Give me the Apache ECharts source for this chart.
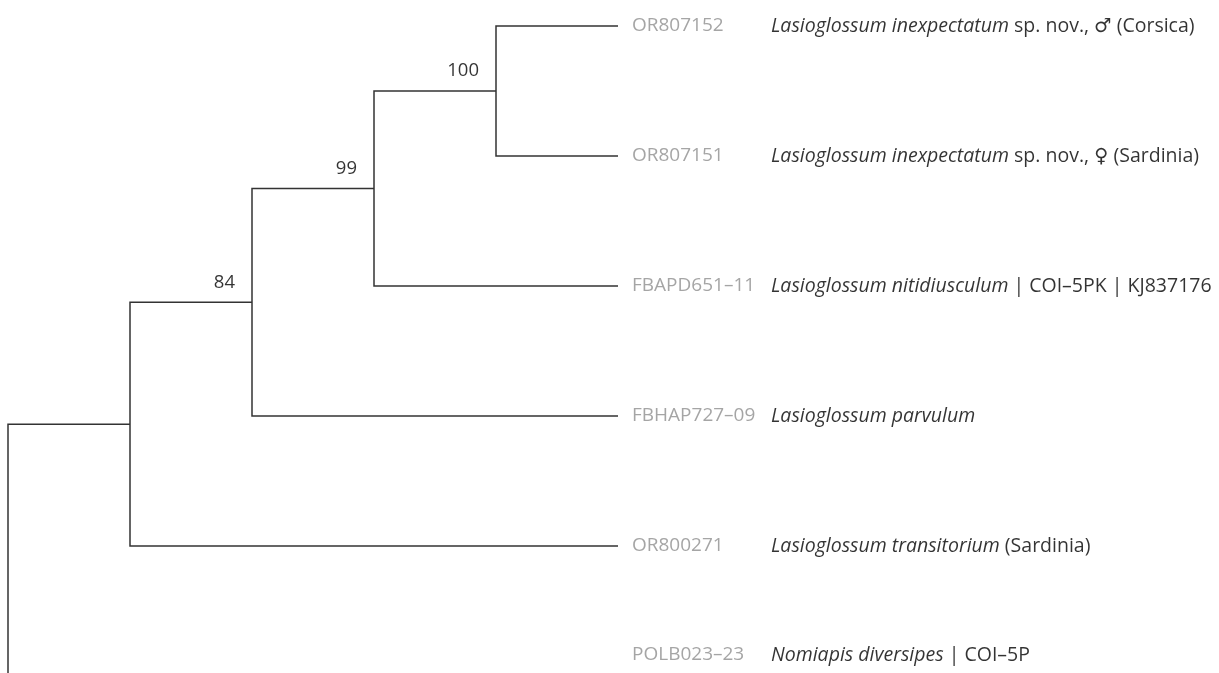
<!DOCTYPE html>
<html>
<head>
<meta charset="utf-8">
<script src="https://cdn.jsdelivr.net/npm/echarts@6/dist/echarts.min.js"></script>
<style>
html,body{margin:0;padding:0;background:#fff;}
#chart{width:1219px;height:673px;}
</style>
</head>
<body>
<div id="chart"></div>
<script>
// ---- data ----
const accessions = ['OR807152', 'OR807151', 'FBAPD651\u201311', 'FBHAP727\u201309', 'OR800271', 'POLB023\u201323'];
const speciesItalic = ['Lasioglossum inexpectatum', 'Lasioglossum inexpectatum', 'Lasioglossum nitidiusculum', 'Lasioglossum parvulum', 'Lasioglossum transitorium', 'Nomiapis diversipes'];
const speciesSuffix = [' sp. nov., \u2642 (Corsica)', ' sp. nov., \u2640 (Sardinia)', ' | COI\u20135PK | KJ837176', '', ' (Sardinia)', ' | COI\u20135P'];
// internal nodes (cladogram depth), children and bootstrap support
const nodeDepth = [4, 3, 2, 1, 0];
const nodeChildren = [['L0', 'L1'], ['N0', 'L2'], ['N1', 'L3'], ['N2', 'L4'], ['N3', 'L5']];
const nodeSupport = ['100', '99', '84', '', ''];
const tipDepth = 5;

// ---- derived tree geometry (in data units) ----
function childDepth(c) { return c[0] === 'L' ? tipDepth : nodeDepth[+c.slice(1)]; }
function childY(c) {
  if (c[0] === 'L') return +c.slice(1);
  const n = +c.slice(1);
  return (childY(nodeChildren[n][0]) + childY(nodeChildren[n][1])) / 2;
}
const branchData = nodeDepth.map((d, i) => {
  const a = nodeChildren[i][0], b = nodeChildren[i][1];
  return [d, childY('N' + i), childDepth(a), childY(a), childDepth(b), childY(b)];
});
const leafData = accessions.map((acc, i) => ({
  value: [tipDepth, i],
  label: i === accessions.length - 1 ? { offset: [0, -21] } : {}
}));
const supportData = nodeDepth.map((d, i) => ({ value: [d, childY('N' + i)], name: nodeSupport[i] })).filter(o => o.name);

const FONT = '"Open Sans", "Noto Sans", "DejaVu Sans", sans-serif';
const chart = echarts.init(document.getElementById('chart'), null, { renderer: 'canvas' });
chart.setOption({
  animation: false,
  backgroundColor: '#ffffff',
  grid: { left: 8, top: 26, width: 610, bottom: 0 },
  xAxis: { type: 'value', min: 0, max: tipDepth, show: false },
  yAxis: { type: 'value', min: 0, max: 647 / 130, inverse: true, show: false },
  series: [
    {
      type: 'custom',
      clip: false,
      data: branchData,
      renderItem: function (params, api) {
        const a0 = api.coord([api.value(0), api.value(3)]);
        const a1 = api.coord([api.value(2), api.value(3)]);
        const b0 = api.coord([api.value(0), api.value(5)]);
        const b1 = api.coord([api.value(4), api.value(5)]);
        return {
          type: 'polyline',
          shape: { points: [a1, a0, b0, b1] },
          style: { stroke: '#333333', lineWidth: 1.5, fill: null }
        };
      }
    },
    {
      type: 'scatter',
      symbolSize: 0,
      clip: false,
      data: leafData,
      label: {
        show: true,
        position: 'right',
        distance: 14,
        formatter: function (p) {
          const i = p.dataIndex;
          let s = '{a|' + accessions[i] + '}{i|' + speciesItalic[i] + '}';
          if (speciesSuffix[i]) s += '{n|' + speciesSuffix[i] + '}';
          return s;
        },
        rich: {
          a: { fontFamily: FONT, fontSize: 19, color: '#8f8f8f', width: 139 },
          i: { fontFamily: FONT, fontSize: 19.5, color: '#000000', fontStyle: 'italic' },
          n: { fontFamily: FONT, fontSize: 19.5, color: '#000000' }
        }
      }
    },
    {
      type: 'scatter',
      symbolSize: 0,
      clip: false,
      data: supportData,
      label: {
        show: true,
        position: 'left',
        distance: 17,
        offset: [0, -20],
        formatter: '{b}',
        fontFamily: FONT,
        fontSize: 18.5,
        color: '#000000'
      }
    }
  ]
});
</script>
</body>
</html>
